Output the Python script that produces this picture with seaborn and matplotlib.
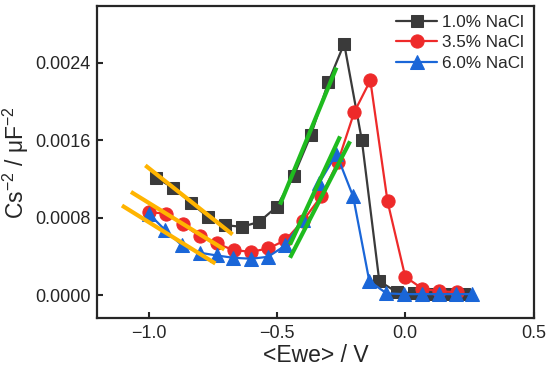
import numpy as np
import pandas as pd
import seaborn as sns
import matplotlib.pyplot as plt

# Mott-Schottky data
x_1p0 = [-0.97, -0.904, -0.835, -0.77, -0.702, -0.636, -0.569, -0.501, -0.435, -0.367,
         -0.30, -0.238, -0.169, -0.101, -0.033, 0.033, 0.098, 0.163, 0.23]
y_1p0 = [0.00121, 0.00111, 0.000954, 0.000809, 0.000723, 0.000706, 0.000758, 0.000913,
         0.00123, 0.00166, 0.0022, 0.0026, 0.0016, 0.000145, 0.00003, 0.00002, 0.00001,
         0.00001, 0.00001]

x_3p5 = [-1.0, -0.932, -0.868, -0.80, -0.735, -0.669, -0.601, -0.534, -0.467, -0.40,
         -0.328, -0.262, -0.199, -0.136, -0.069, 0.0, 0.067, 0.133, 0.20]
y_3p5 = [0.000857, 0.000843, 0.000733, 0.000609, 0.000534, 0.000465, 0.000448, 0.000482,
         0.000568, 0.000764, 0.00102, 0.00138, 0.00189, 0.00222, 0.00097, 0.00019,
         0.000066, 0.00004, 0.00003]

x_6p0 = [-1.0, -0.935, -0.87, -0.80, -0.735, -0.67, -0.60, -0.535, -0.467, -0.40,
         -0.335, -0.268, -0.203, -0.14, -0.073, -0.005, 0.064, 0.13, 0.198, 0.262]
y_6p0 = [0.000843, 0.000671, 0.000513, 0.000438, 0.00041, 0.000386, 0.000376, 0.000396,
         0.000513, 0.000781, 0.00116, 0.00146, 0.00102, 0.000145, 0.000018, 0.00001,
         0.00001, 0.00001, 0.00001, 0.00001]

labels = ["1.0% NaCl", "3.5% NaCl", "6.0% NaCl"]

# linear fit segments: (x0, x1, y0, y1)
fit_low = [(-1.013, -0.673, 0.001341, 0.000627),
           (-1.069, -0.705, 0.001067, 0.000472),
           (-1.104, -0.740, 0.000926, 0.000327)]
fit_high = [(-0.488, -0.268, 0.000936, 0.002353),
            (-0.449, -0.215, 0.000386, 0.00159),
            (-0.449, -0.254, 0.000523, 0.001641)]

sns.set_style("ticks")
plt.rcParams["font.family"] = ["Liberation Sans", "DejaVu Sans"]
plt.rcParams["mathtext.fontset"] = "custom"
plt.rcParams["mathtext.rm"] = "Liberation Sans"
plt.rcParams["mathtext.default"] = "regular"

fig = plt.figure(figsize=(5.5, 3.71), dpi=100)
ax = fig.add_axes([0.177, 0.142, 0.793, 0.842])

series = [(x_1p0, y_1p0, "#3a3a3a", "s", 8.5),
          (x_3p5, y_3p5, "#ee2a2a", "o", 9.5),
          (x_6p0, y_6p0, "#1a66d8", "^", 9.5)]
for (xs, ys, col, mk, ms), lab in zip(series, labels):
    df = pd.DataFrame({"x": xs, "y": ys})
    sns.lineplot(data=df, x="x", y="y", ax=ax, color=col, marker=mk, markersize=ms,
                 markeredgecolor=col, linewidth=1.6, label=lab, sort=False)

for x0, x1, y0, y1 in fit_low:
    ax.plot([x0, x1], [y0, y1], color="#ffb400", linewidth=3, zorder=5, solid_capstyle="butt")
for x0, x1, y0, y1 in fit_high:
    ax.plot([x0, x1], [y0, y1], color="#1fbb1f", linewidth=3, zorder=5, solid_capstyle="butt")

ax.set_xlim(-1.2, 0.5)
ax.set_ylim(-0.00024, 0.00299)
ax.set_xticks([-1.0, -0.5, 0.0, 0.5])
ax.set_xticklabels(["\u22121.0", "\u22120.5", "0.0", "0.5"])
ax.set_yticks([0.0, 0.0008, 0.0016, 0.0024])
ax.set_yticklabels(["0.0000", "0.0008", "0.0016", "0.0024"])
ax.tick_params(direction="in", length=4, width=1.5, labelsize=13, pad=5)
for s in ax.spines.values():
    s.set_linewidth(1.6)
    s.set_visible(True)

ax.set_xlabel("<Ewe> / V", fontsize=16.5, labelpad=1)
ax.set_ylabel("Cs$^{-2}$ / \u03bcF$^{-2}$", fontsize=16.5, labelpad=3)

ax.legend(loc="upper right", bbox_to_anchor=(1.0, 1.0), frameon=False, fontsize=12.3,
          handlelength=2.4, handletextpad=0.3, labelspacing=0.32, borderaxespad=0.38,
          borderpad=0.15)

fig.savefig("out.png", dpi=100)
